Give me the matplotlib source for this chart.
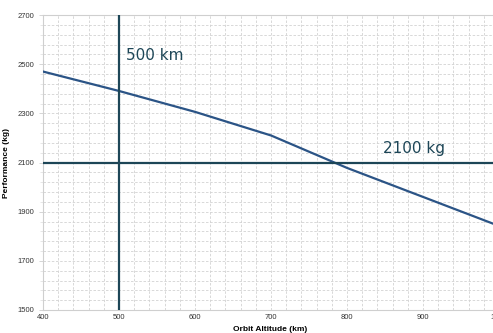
import matplotlib
matplotlib.use("Agg")
import matplotlib.pyplot as plt
import numpy as np

altitude = [400, 500, 600, 700, 800, 900, 1000]
performance = [2470, 2391, 2306, 2210, 2078, 1960, 1842]
ref_altitude = 500
ref_mass = 2100

plt.rcParams['font.family'] = ['Liberation Sans', 'DejaVu Sans']

fig = plt.figure(figsize=(4.93, 3.33), dpi=100)
ax = fig.add_axes([43 / 493, 23 / 333, 456 / 493, 295 / 333])

ax.set_xlim(400, 1000)
ax.set_ylim(1500, 2700)
ax.set_xticks(np.arange(400, 1001, 100))
ax.set_xticks(np.arange(400, 1001, 20), minor=True)
ax.set_yticks(np.arange(1500, 2701, 200))
ax.set_yticks(np.arange(1500, 2701, 40), minor=True)

ax.grid(True, which='both', color='#d2d2d2', linestyle=(0, (3, 2)), linewidth=0.6)
ax.set_axisbelow(True)

for side in ['left', 'bottom', 'top']:
    ax.spines[side].set_color('#cfcfcf')
    ax.spines[side].set_linewidth(0.8)
ax.spines['right'].set_visible(False)

ax.tick_params(axis='both', which='major', labelsize=5.5, labelcolor='#333333',
               color='#cfcfcf', length=3, width=0.6)
ax.tick_params(axis='both', which='minor', color='#dddddd', length=2, width=0.5)
ax.tick_params(axis='x', which='both', length=0, pad=3)

ax.plot(altitude, performance, color='#2b5486', linewidth=1.6, zorder=3)
ax.axvline(ref_altitude, color='#1d4657', linewidth=1.6, zorder=4)
ax.axhline(ref_mass, color='#1d4657', linewidth=1.6, zorder=4)

ax.text(509, 2535, f"{ref_altitude} km", fontsize=11, color='#1d4657',
        family=['DejaVu Sans'], va='center', ha='left')
ax.text(847, 2155, f"{ref_mass} kg", fontsize=11, color='#1d4657',
        family=['DejaVu Sans'], va='center', ha='left')

ax.set_xlabel("Orbit Altitude (km)", fontsize=6, fontweight='bold')
ax.xaxis.set_label_coords((270 - 43) / 456, -0.055)
ax.set_ylabel("Performance (kg)", fontsize=6, fontweight='bold')
ax.yaxis.set_label_coords(-(43 - 10) / 456, 0.5)

fig.savefig("out.png", dpi=100)
